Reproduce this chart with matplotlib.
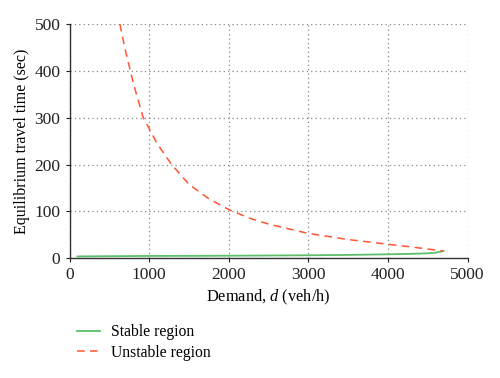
import matplotlib
matplotlib.use("Agg")
import matplotlib.pyplot as plt

# Stabil ve kararsiz denge cozumleri
stable_d = [100, 500, 1000, 1500, 2000, 2500, 3000, 3500, 4000, 4300, 4500, 4600, 4700]
stable_t = [4.0, 4.5, 5.0, 5.2, 5.5, 6.0, 6.4, 7.2, 8.5, 9.5, 10.6, 12.0, 15.5]

unstable_d = [633, 700, 800, 926, 1000, 1100, 1200, 1283, 1500, 1750, 2000, 2270,
              2500, 3000, 3500, 4000, 4400, 4692]
unstable_t = [500, 445, 375, 300, 277, 245, 220, 200, 158, 127, 104, 85,
              73, 53, 40, 30, 22, 15.5]

plt.rcParams["font.family"] = ["Liberation Serif", "DejaVu Serif"]
plt.rcParams["mathtext.fontset"] = "custom"
plt.rcParams["mathtext.it"] = "Liberation Serif:italic"
plt.rcParams["mathtext.rm"] = "Liberation Serif"

fig = plt.figure(figsize=(5.0, 3.78), dpi=100)
ax = fig.add_axes([0.139, 0.3167, 0.796, 0.62])

ax.plot(stable_d, stable_t, color="#5cbf6a", lw=1.3, label="Stable region")
ax.plot(unstable_d, unstable_t, color="#ff5533", lw=1.1, ls=(0, (5, 3.5)),
        label="Unstable region")

ax.set_xlim(0, 5000)
ax.set_ylim(0, 500)
ax.set_xticks([0, 1000, 2000, 3000, 4000, 5000])
ax.set_yticks([0, 100, 200, 300, 400, 500])
ax.grid(True, ls=(0, (1, 2.5)), color="#888888", lw=0.9)
ax.spines[["top", "right"]].set_visible(False)
for s in ["left", "bottom"]:
    ax.spines[s].set_linewidth(1.0)
    ax.spines[s].set_color("#333333")
ax.tick_params(direction="out", length=3, labelsize=12.5, colors="#222222")
ax.set_xlabel("Demand, $d$ (veh/h)", fontsize=11.8, labelpad=3)
ax.set_ylabel("Equilibrium travel time (sec)", fontsize=11.5, labelpad=3)

fig.legend(loc="upper left", bbox_to_anchor=(0.125, 0.18), frameon=False,
           fontsize=11.3, handlelength=1.5, labelspacing=0.3, handletextpad=0.7)

plt.savefig("out.png", dpi=100)
